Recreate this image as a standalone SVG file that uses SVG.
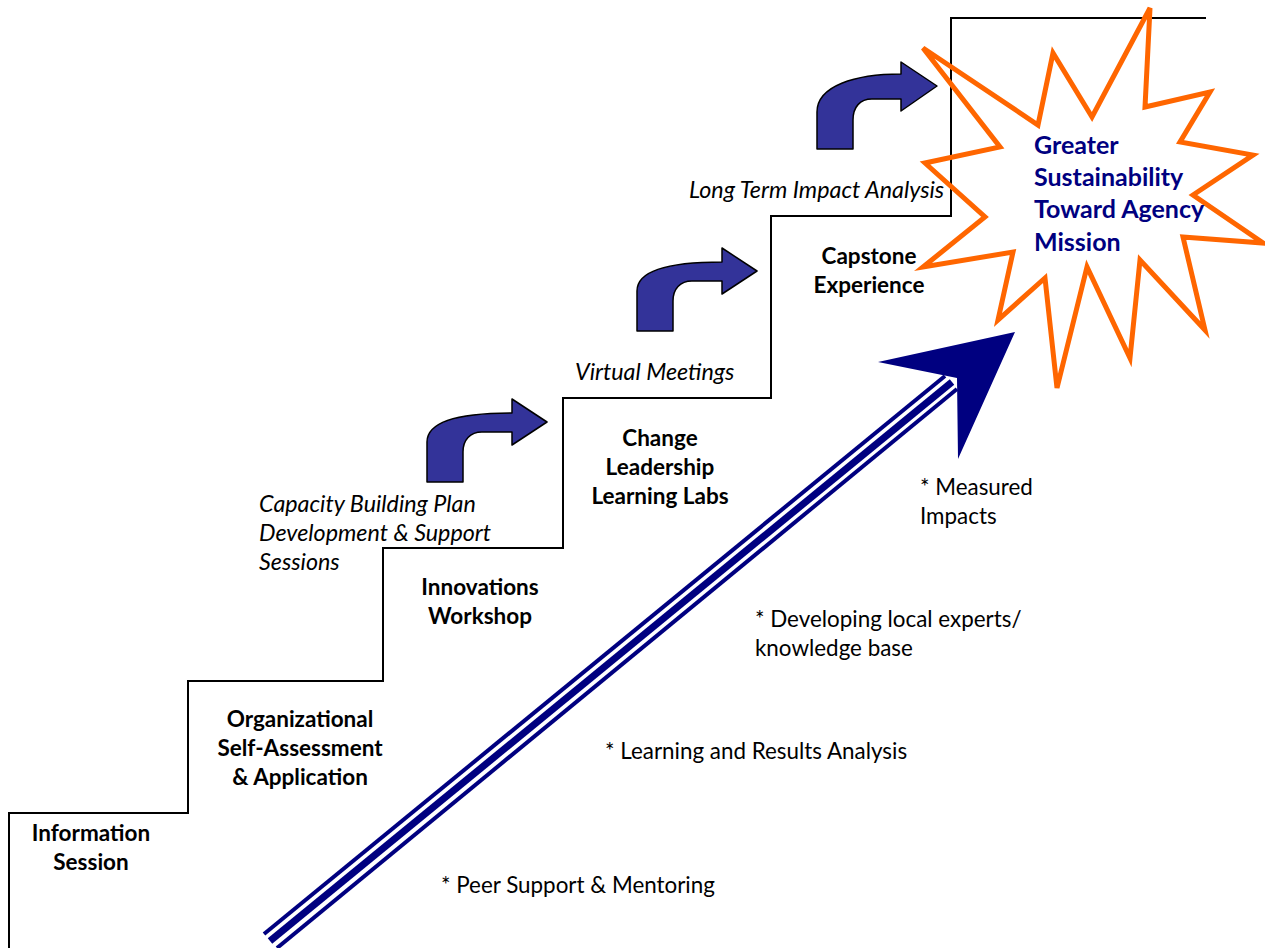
<svg xmlns="http://www.w3.org/2000/svg" width="1265" height="948" viewBox="0 0 1265 948">
<style>
.b{font-family:Lato,"Liberation Sans",sans-serif;font-weight:bold;font-size:22.5px;fill:#000;text-anchor:middle}
.i{font-family:Lato,"Liberation Sans",sans-serif;font-style:italic;font-size:23.3px;fill:#000}
.r{font-family:Lato,"Liberation Sans",sans-serif;font-size:22.4px;fill:#000}
.s{font-family:Lato,"Liberation Sans",sans-serif;font-weight:bold;font-size:25px;fill:#000080}
.turn{fill:#333399;stroke:#000;stroke-width:1.5;stroke-linejoin:round}
</style>
<rect width="1265" height="948" fill="#fff"/>
<g id="stairs">
<polyline points="9,948 9,813 188,813 188,681 383,681 383,548 563,548 563,398 771,398 771,216 951,216 951,18 1206,18" fill="none" stroke="#000" stroke-width="2"/>
</g>
<g id="connectors">
<path class="turn" d="M427,482 V442 C427,420 465,413 512,413 V399 L547,422 L512,445 V432 H482 C470,432 463,440 463,452 V482 Z"/>
<path class="turn" d="M637,331 V291 C637,269 675,262 722,262 V248 L757,271 L722,294 V281 H692 C680,281 673,289 673,301 V331 Z"/>
<path class="turn" d="M817,149 V112 C817,86 855,74 901,74 V62 L937,86 L901,111 V99 H872 C860,99 853,107 853,120 V149 Z"/>
<g id="progress-arrow" stroke="#000080" fill="none">
<line x1="264" y1="934" x2="945" y2="376" stroke-width="4"/>
<line x1="270" y1="941" x2="952" y2="382" stroke-width="7"/>
<line x1="277" y1="948" x2="957" y2="389" stroke-width="4"/>
<polygon points="1015,332 878,362 957,378 958,459" fill="#000080" stroke="none"/>
</g>
</g>
<g id="goal">
<polygon points="1150,8 1145,107 1210,92 1180,142 1253,155 1193,195 1263,243 1183,237 1205,330 1140,260 1130,358 1087,267 1057,388 1045,278 998,320 1013,252 923,267 985,217 925,163 1000,147 923,48 1038,125 1053,53 1092,117" fill="none" stroke="#FF6600" stroke-width="5" stroke-linejoin="miter"/>
<text class="s" x="1034" y="154">Greater</text>
<text class="s" x="1034" y="186">Sustainability</text>
<text class="s" x="1034" y="218">Toward Agency</text>
<text class="s" x="1034" y="251">Mission</text>
</g>
<g id="step-info">
<text class="b" x="91" y="841">Information</text>
<text class="b" x="91" y="870">Session</text>
</g>
<g id="step-assessment">
<text class="b" x="300" y="727">Organizational</text>
<text class="b" x="300" y="756">Self-Assessment</text>
<text class="b" x="300" y="785">&amp; Application</text>
</g>
<g id="step-innovations">
<text class="b" x="480" y="595">Innovations</text>
<text class="b" x="480" y="624">Workshop</text>
</g>
<g id="step-change">
<text class="b" x="660" y="446">Change</text>
<text class="b" x="660" y="475">Leadership</text>
<text class="b" x="660" y="504">Learning Labs</text>
</g>
<g id="step-capstone">
<text class="b" x="869" y="264">Capstone</text>
<text class="b" x="869" y="293">Experience</text>
</g>
<g id="transitions">
<text class="i" x="259" y="512">Capacity Building Plan</text>
<text class="i" x="259" y="541">Development &amp; Support</text>
<text class="i" x="259" y="570">Sessions</text>
<text class="i" x="575" y="380">Virtual Meetings</text>
<text class="i" x="689" y="198">Long Term Impact Analysis</text>
</g>
<g id="outcomes">
<text class="r" x="920" y="495">* Measured</text>
<text class="r" x="920" y="524">Impacts</text>
<text class="r" x="755" y="627">* Developing local experts/</text>
<text class="r" x="755" y="656">knowledge base</text>
<text class="r" x="605" y="759">* Learning and Results Analysis</text>
<text class="r" x="441" y="893">* Peer Support &amp; Mentoring</text>
</g>
</svg>
